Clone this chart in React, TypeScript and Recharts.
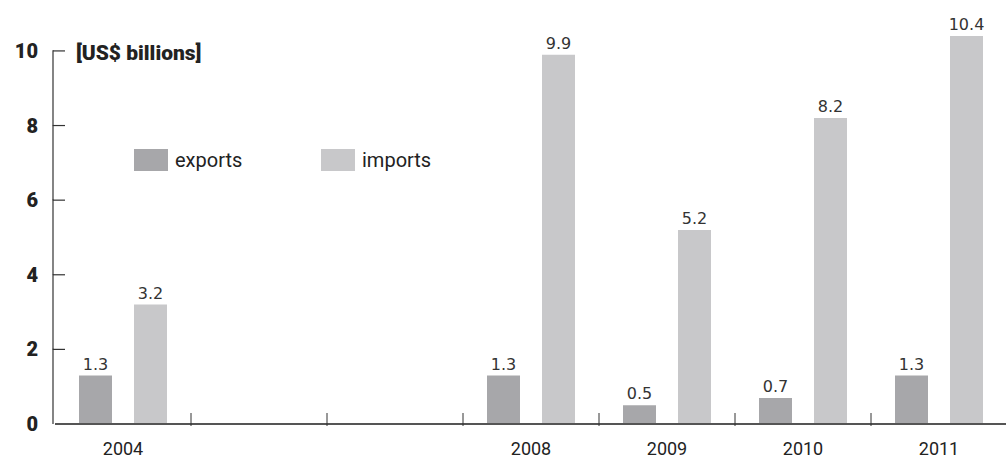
import React from "react";
import { BarChart, Bar, XAxis, YAxis, LabelList } from "recharts";

const years = ["2004", "", "", "2008", "2009", "2010", "2011"];
const exportsVals: (number | null)[] = [1.3, null, null, 1.3, 0.5, 0.7, 1.3];
const importsVals: (number | null)[] = [3.2, null, null, 9.9, 5.2, 8.2, 10.4];
const yTicks = [0, 2, 4, 6, 8, 10];

const data = years.map((y, i) => ({ slot: "s" + i, year: y, exports: exportsVals[i], imports: importsVals[i] }));

const XTick = (props: any) => {
  const { x, y, index } = props;
  const half = 68;
  return (
    <g>
      {index < 6 && <line x1={x + half} x2={x + half} y1={y - 13} y2={y} stroke="#333" strokeWidth={1} />}
      <text x={x} y={y + 29} textAnchor="middle" fontFamily="Roboto" fontSize={18} fill="#222">
        {years[index]}
      </text>
    </g>
  );
};

const STEP = (424 - 36) / 10.4 * 2;

const YTick = (props: any) => {
  const { x, y, payload } = props;
  return (
    <g>
      {payload.value !== 0 && <line x1={x} x2={x + 12} y1={y} y2={y} stroke="#333" strokeWidth={1.2} />}
      {payload.value !== 0 && <line x1={x} x2={x} y1={y - 0.6} y2={y + STEP} stroke="#333" strokeWidth={1.2} />}
      <text x={x - 15} y={y + 7} textAnchor="end" fontFamily="Roboto" fontWeight={900} fontSize={20} fill="#222">
        {payload.value}
      </text>
    </g>
  );
};

const labelStyle = { fontFamily: "DejaVu Sans", fontSize: 16, fill: "#333" };

export default function App() {
  return (
    <div style={{ position: "absolute", left: 0, top: 0, width: 1006, height: 459, background: "#fff" }}>
      <BarChart width={1006} height={459} data={data} margin={{ top: 36, right: -1, bottom: 0, left: 0 }} barSize={33} barGap={22} barCategoryGap={24}>
        <XAxis dataKey="slot" height={35} tickSize={0} axisLine={{ stroke: "#555", strokeWidth: 2 }} tickLine={false} tick={<XTick />} interval={0} />
        <YAxis width={55} tickSize={0} domain={[0, 10.4]} ticks={yTicks} axisLine={false} tickLine={false} tick={<YTick />} />
        <Bar dataKey="exports" fill="#a7a7aa" isAnimationActive={false}>
          <LabelList dataKey="exports" position="top" offset={6} style={labelStyle} />
        </Bar>
        <Bar dataKey="imports" fill="#c8c8ca" isAnimationActive={false}>
          <LabelList dataKey="imports" position="top" offset={6} style={labelStyle} />
        </Bar>
      </BarChart>
      <div style={{ position: "absolute", left: 76, top: 41, fontFamily: "Roboto", fontWeight: 900, fontSize: 21, color: "#222" }}>
        [US$ billions]
      </div>
      <div style={{ position: "absolute", left: 134, top: 148, display: "flex", alignItems: "center", fontFamily: "Roboto", fontSize: 20, color: "#222" }}>
        <div style={{ width: 34, height: 22, background: "#a7a7aa", marginRight: 7 }} />
        <span style={{ width: 146 }}>exports</span>
        <div style={{ width: 34, height: 22, background: "#c8c8ca", marginRight: 7 }} />
        <span>imports</span>
      </div>
    </div>
  );
}
